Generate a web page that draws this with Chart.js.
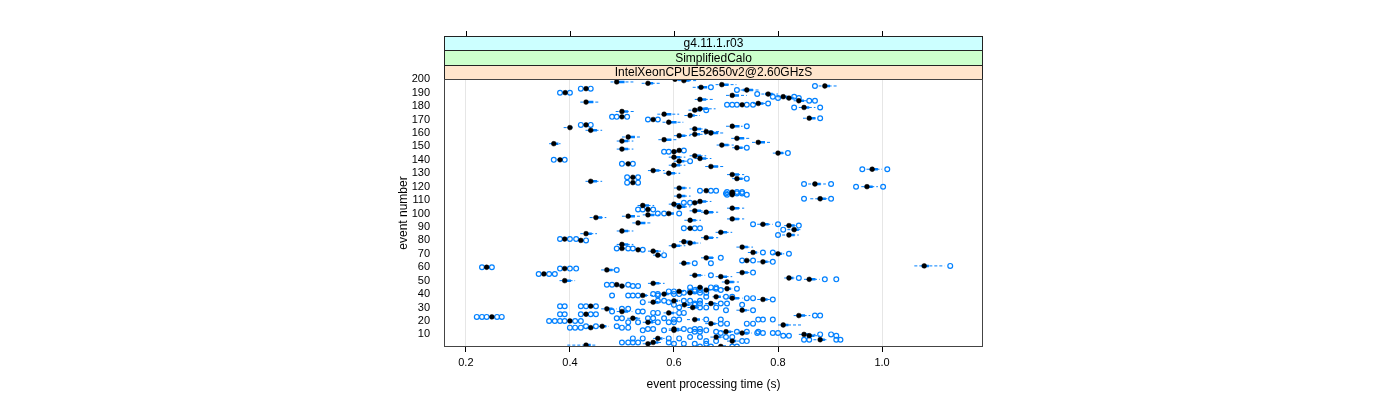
<!DOCTYPE html>
<html>
<head>
<meta charset="utf-8">
<script src="https://cdn.jsdelivr.net/npm/chart.js@4.4.1/dist/chart.umd.min.js"></script>
<style>
  html, body { margin: 0; padding: 0; background: #fff; }
  #contenedor { width: 1400px; height: 400px; }
</style>
</head>
<body>
<div id="contenedor"><canvas id="grafico"></canvas></div>
<script>
// Datos (tiempo por evento, en segundos)
const eventos = [
  200,199,198,197,196,195,194,193,192,190,
  189,188,187,186,185,184,183,182,181,179,
  178,177,176,174,173,172,171,170,168,166,
  165,164,163,162,161,160,159,158,157,156,
  155,154,153,152,151,149,148,147,146,145,
  143,142,141,140,139,137,136,135,133,132,
  130,129,127,126,124,123,122,120,119,117,
  116,115,114,113,111,109,108,107,106,105,
  104,103,102,101,100,99,98,97,96,95,
  93,92,91,89,88,87,86,85,84,82,
  81,80,79,78,77,76,75,74,73,72,
  71,70,69,67,65,64,63,61,60,59,
  58,56,55,54,53,52,51,50,49,48,
  47,46,45,44,43,42,41,40,39,38,
  37,36,35,34,33,32,31,30,29,28,
  27,26,25,24,23,22,21,20,19,18,
  17,16,15,14,13,12,11,10,9,8,
  7,6,5,4,3,2,1
];

const medianas = [
  0.602,0.619,0.490,0.550,0.692,0.890,0.652,0.431,0.740,0.391,
  0.781,0.712,0.810,0.821,0.650,0.840,0.431,0.762,0.731,0.850,
  0.650,0.640,0.500,0.581,0.631,0.500,0.860,0.560,0.590,0.431,
  0.712,0.400,0.640,0.440,0.662,0.671,0.640,0.610,0.512,0.721,
  0.581,0.500,0.762,0.369,0.692,0.721,0.500,0.610,0.600,0.800,
  0.640,0.600,0.650,0.381,0.610,0.512,0.600,0.671,0.981,0.560,
  0.590,0.712,0.521,0.721,0.440,0.521,0.871,0.971,0.610,0.662,
  0.712,0.712,0.712,0.610,0.881,0.650,0.640,0.600,0.540,0.610,
  0.712,0.550,0.640,0.662,0.590,0.550,0.512,0.450,0.712,0.631,
  0.531,0.771,0.821,0.631,0.831,0.500,0.690,0.431,0.821,0.662,
  0.390,0.421,0.619,0.631,0.500,0.600,0.731,0.500,0.531,0.560,
  0.752,0.800,0.569,0.662,0.740,0.771,0.619,1.081,0.240,0.390,
  0.471,0.731,0.350,0.640,0.690,0.821,0.860,0.390,0.702,0.560,
  0.490,0.500,0.650,0.702,0.662,0.610,0.631,0.581,0.540,0.681,
  0.712,0.771,0.600,0.560,0.671,0.620,0.440,0.636,0.471,0.731,
  0.500,0.590,0.431,0.840,0.250,0.521,0.640,0.400,0.550,0.671,
  0.810,0.462,0.440,0.600,0.600,0.700,0.731,0.850,0.860,0.681,
  0.569,0.881,0.712,0.560,0.550,0.431,0.690
];

// caja (cuartiles)
const cajaMin = [
  0.598,0.615,0.486,0.546,0.688,0.886,0.645,0.428,0.732,0.388,
  0.775,0.708,0.805,0.815,0.646,0.836,0.427,0.758,0.728,0.846,
  0.646,0.636,0.496,0.577,0.627,0.497,0.856,0.556,0.586,0.428,
  0.708,0.396,0.636,0.436,0.658,0.667,0.636,0.606,0.508,0.717,
  0.577,0.496,0.758,0.365,0.688,0.717,0.496,0.607,0.597,0.796,
  0.636,0.596,0.646,0.377,0.606,0.508,0.596,0.667,0.976,0.556,
  0.586,0.708,0.518,0.717,0.436,0.518,0.866,0.966,0.606,0.659,
  0.709,0.709,0.709,0.606,0.876,0.646,0.636,0.596,0.536,0.606,
  0.708,0.546,0.636,0.658,0.586,0.546,0.508,0.446,0.708,0.627,
  0.527,0.766,0.817,0.628,0.826,0.496,0.686,0.427,0.817,0.658,
  0.387,0.418,0.615,0.627,0.496,0.596,0.727,0.497,0.528,0.556,
  0.748,0.796,0.565,0.658,0.737,0.767,0.615,1.076,0.237,0.387,
  0.467,0.727,0.347,0.636,0.686,0.817,0.856,0.386,0.698,0.556,
  0.487,0.497,0.646,0.698,0.658,0.606,0.627,0.577,0.536,0.677,
  0.708,0.767,0.596,0.556,0.667,0.616,0.436,0.632,0.467,0.727,
  0.496,0.586,0.427,0.836,0.247,0.517,0.636,0.397,0.546,0.667,
  0.806,0.458,0.436,0.596,0.596,0.696,0.727,0.846,0.856,0.677,
  0.565,0.877,0.708,0.556,0.546,0.427,0.686
];

const cajaMax = [
  0.612,0.630,0.505,0.560,0.705,0.900,0.664,0.436,0.752,0.395,
  0.790,0.725,0.818,0.830,0.662,0.850,0.445,0.772,0.736,0.860,
  0.665,0.652,0.512,0.595,0.640,0.505,0.872,0.565,0.605,0.436,
  0.726,0.405,0.652,0.452,0.675,0.685,0.650,0.622,0.525,0.735,
  0.595,0.512,0.775,0.378,0.705,0.732,0.512,0.615,0.606,0.810,
  0.652,0.612,0.662,0.386,0.620,0.516,0.612,0.685,0.992,0.572,
  0.602,0.725,0.526,0.732,0.452,0.526,0.882,0.982,0.622,0.666,
  0.716,0.716,0.716,0.622,0.892,0.662,0.646,0.612,0.552,0.622,
  0.725,0.555,0.652,0.675,0.600,0.562,0.525,0.462,0.725,0.642,
  0.545,0.782,0.832,0.636,0.840,0.512,0.702,0.442,0.832,0.675,
  0.395,0.426,0.630,0.642,0.512,0.612,0.742,0.505,0.536,0.570,
  0.760,0.808,0.575,0.675,0.745,0.780,0.630,1.090,0.245,0.395,
  0.482,0.742,0.355,0.652,0.702,0.830,0.872,0.402,0.715,0.572,
  0.495,0.505,0.656,0.710,0.668,0.616,0.640,0.590,0.548,0.690,
  0.725,0.780,0.608,0.570,0.680,0.630,0.445,0.645,0.482,0.740,
  0.512,0.600,0.436,0.852,0.255,0.530,0.650,0.405,0.560,0.680,
  0.820,0.470,0.445,0.610,0.610,0.710,0.742,0.860,0.870,0.690,
  0.578,0.890,0.720,0.570,0.556,0.440,0.700
];

// bigotes
const bigoteMin = [
  0.590,0.608,0.478,0.538,0.680,0.878,0.636,0.426,0.728,0.386,
  0.768,0.700,0.798,0.808,0.640,0.830,0.420,0.752,0.726,0.840,
  0.638,0.628,0.488,0.568,0.620,0.494,0.848,0.554,0.578,0.426,
  0.700,0.388,0.630,0.430,0.652,0.660,0.630,0.600,0.500,0.710,
  0.570,0.490,0.750,0.360,0.682,0.712,0.490,0.604,0.595,0.790,
  0.630,0.590,0.640,0.375,0.600,0.505,0.590,0.660,0.970,0.550,
  0.580,0.702,0.515,0.712,0.430,0.515,0.858,0.960,0.600,0.656,
  0.706,0.706,0.706,0.600,0.862,0.640,0.634,0.590,0.530,0.600,
  0.702,0.544,0.630,0.652,0.584,0.540,0.500,0.438,0.702,0.620,
  0.520,0.760,0.812,0.625,0.818,0.490,0.680,0.420,0.808,0.652,
  0.385,0.415,0.610,0.622,0.490,0.590,0.720,0.494,0.526,0.550,
  0.742,0.790,0.560,0.652,0.734,0.760,0.610,1.062,0.235,0.385,
  0.460,0.720,0.345,0.630,0.680,0.812,0.850,0.380,0.692,0.550,
  0.485,0.494,0.640,0.692,0.655,0.604,0.624,0.574,0.535,0.674,
  0.702,0.760,0.590,0.550,0.660,0.610,0.434,0.626,0.460,0.720,
  0.490,0.580,0.425,0.830,0.245,0.510,0.625,0.395,0.540,0.660,
  0.800,0.455,0.432,0.590,0.590,0.690,0.720,0.840,0.850,0.670,
  0.560,0.868,0.702,0.550,0.540,0.395,0.680
];

const bigoteMax = [
  0.625,0.645,0.522,0.575,0.720,0.915,0.664,0.436,0.765,0.395,
  0.800,0.740,0.825,0.835,0.675,0.855,0.455,0.775,0.736,0.872,
  0.680,0.655,0.525,0.610,0.650,0.505,0.872,0.565,0.618,0.436,
  0.732,0.405,0.662,0.462,0.688,0.698,0.662,0.632,0.538,0.745,
  0.605,0.522,0.785,0.382,0.715,0.734,0.522,0.615,0.606,0.812,
  0.662,0.622,0.672,0.386,0.625,0.516,0.622,0.695,1.000,0.582,
  0.612,0.735,0.526,0.734,0.462,0.526,0.892,0.992,0.632,0.666,
  0.716,0.716,0.716,0.632,0.895,0.672,0.646,0.622,0.562,0.632,
  0.735,0.555,0.662,0.685,0.600,0.572,0.535,0.470,0.735,0.652,
  0.555,0.790,0.834,0.636,0.845,0.522,0.712,0.452,0.840,0.685,
  0.395,0.426,0.640,0.652,0.522,0.622,0.752,0.505,0.536,0.580,
  0.762,0.812,0.576,0.680,0.745,0.784,0.632,1.120,0.245,0.395,
  0.485,0.745,0.355,0.660,0.712,0.832,0.880,0.410,0.725,0.582,
  0.495,0.505,0.660,0.712,0.680,0.620,0.645,0.595,0.560,0.695,
  0.732,0.784,0.612,0.575,0.684,0.634,0.445,0.648,0.490,0.745,
  0.520,0.604,0.436,0.862,0.255,0.535,0.655,0.405,0.564,0.684,
  0.845,0.475,0.450,0.615,0.615,0.714,0.750,0.872,0.880,0.695,
  0.582,0.895,0.725,0.575,0.556,0.452,0.705
];

// valores atipicos de cada evento
const atipicos = [
  [],[],[],[],[],[0.871],[0.671],[0.421,0.440],[0.721],[0.381,0.400],
  [0.760],[],[0.790,0.831],[0.800,0.840],[],[0.860,0.871],[],[0.781],[0.702,0.712,0.721,0.740,0.752],[0.831,0.881],
  [],[0.662],[],[],[],[0.481,0.490,0.510],[0.881],[0.550,0.569],[],[0.421,0.440],
  [0.740],[],[],[],[],[],[],[],[],[],
  [],[],[],[],[],[0.740],[],[0.619],[0.581,0.590],[0.819],
  [],[],[],[0.369,0.390],[0.631],[0.500,0.521],[],[],[0.962,1.010],[],
  [],[],[0.510,0.531],[0.740],[],[0.510,0.531],[0.850,0.902],[0.950,1.002],[],[0.650,0.671,0.681],
  [0.702,0.721,0.731],[0.700,0.721,0.731],[0.702,0.740],[],[0.850,0.902],[],[0.619,0.631],[],[],[],
  [],[0.531,0.540,0.560],[],[],[0.569,0.581,0.610],[],[],[],[],[],
  [],[0.752,0.800],[0.840],[0.619,0.640,0.650],[0.810],[],[],[],[0.800],[],
  [0.381,0.400,0.412],[0.431],[],[],[],[],[],[0.490,0.512,0.521],[0.540],[],
  [0.771,0.790],[0.821],[0.581],[0.690],[0.731,0.752],[0.790],[0.640,0.671],[1.131],[0.231,0.250],[0.381,0.400,0.412],
  [0.490],[0.752],[0.340,0.360,0.371],[0.671],[],[0.840],[0.890,0.912],[],[],[],
  [0.471,0.481,0.512],[0.521,0.531],[0.631,0.671,0.681],[0.681,0.721],[0.640,0.650,0.690],[0.590,0.600,0.631,0.640],[0.619,0.650,0.662],[0.560,0.569,0.600,0.610],[0.481,0.512,0.521,0.531,0.569],[0.662,0.700,0.712],
  [0.740,0.752],[0.790],[0.569,0.581,0.619,0.631,0.650],[0.540,0.590],[0.640,0.650,0.690,0.702],[0.600,0.640,0.731],[0.381,0.390,0.421,0.431,0.450],[0.610,0.650,0.662,0.681],[0.500,0.512],[0.700,0.752],
  [0.481,0.531,0.540],[0.560,0.569,0.610,0.619],[0.381,0.390,0.421,0.440,0.450],[0.871,0.881],[0.221,0.231,0.240,0.260,0.269],[0.490,0.500,0.550,0.560,0.581],[0.600,0.610,0.662,0.690,0.762,0.771,0.790],[0.360,0.371,0.381,0.390,0.410,0.421],[0.512,0.531,0.569,0.590,0.600],[0.690,0.702,0.740,0.752],
  [],[0.431,0.450,0.490],[0.400,0.410,0.421,0.500,0.512],[0.550,0.560,0.619,0.640,0.650],[0.540,0.581,0.631,0.662],[0.640,0.650,0.681,0.721,0.740,0.762],[0.690,0.760,0.771,0.790,0.800],[0.881,0.902],[0.810,0.821,0.912],[0.631,0.650,0.700,0.712],
  [0.521,0.540,0.590,0.610],[0.850,0.860,0.912,0.920],[0.662,0.681,0.731,0.740],[0.500,0.512,0.521,0.531,0.590],[0.600,0.619,0.640,0.662],[],[0.650,0.671,0.712,0.721]
];

const marcasX = [0.2, 0.4, 0.6, 0.8, 1.0];
const marcasY = [10,20,30,40,50,60,70,80,90,100,110,120,130,140,150,160,170,180,190,200];
const tiras = ['g4.11.1.r03', 'SimplifiedCalo', 'IntelXeonCPUE52650v2@2.60GHzS'];

// Armar los segmentos y puntos
function segmentos(desde, hasta) {
  const res = [];
  eventos.forEach((e, i) => {
    res.push({ x: desde[i], y: e }, { x: hasta[i], y: e }, { x: null, y: null });
  });
  return res;
}

const puntosMediana = eventos.map((e, i) => ({ x: medianas[i], y: e }));
const puntosAtipicos = [];
eventos.forEach((e, i) => atipicos[i].forEach(v => puntosAtipicos.push({ x: v, y: e })));

const AZUL = '#0080ff';

// Tiras de lattice, borde del panel y marcas de arriba
const tirasPlugin = {
  id: 'tiras',
  afterDraw(chart) {
    const { ctx, chartArea: a, scales: { x } } = chart;
    const alto = 14.5;
    const ancho = a.right - a.left;
    const colores = ['#ccffff', '#ccffcc', '#ffe5cc'];
    ctx.save();
    ctx.lineWidth = 1;
    ctx.strokeStyle = '#222';
    tiras.forEach((t, i) => {
      const y0 = Math.round(a.top - (3 - i) * alto);
      const y1 = Math.round(a.top - (2 - i) * alto);
      ctx.fillStyle = colores[i];
      ctx.fillRect(a.left, y0, ancho, y1 - y0);
      ctx.strokeRect(a.left + 0.5, y0 + 0.5, ancho - 1, y1 - y0);
      ctx.fillStyle = '#000';
      ctx.font = '12px "Liberation Sans", Arial, sans-serif';
      ctx.textAlign = 'center';
      ctx.textBaseline = 'middle';
      ctx.fillText(t, (a.left + a.right) / 2, (y0 + y1) / 2 + 1);
    });
    const yArriba = Math.round(a.top - 3 * alto);
    ctx.strokeStyle = '#000';
    x.ticks.forEach(tk => {
      const px = Math.round(x.getPixelForValue(tk.value)) + 0.5;
      ctx.beginPath();
      ctx.moveTo(px, yArriba - 5);
      ctx.lineTo(px, yArriba);
      ctx.stroke();
    });
    ctx.strokeStyle = '#444';
    ctx.strokeRect(a.left + 0.5, a.top + 0.5, ancho - 1, a.bottom - a.top - 1);
    ctx.restore();
  }
};

Chart.defaults.font.family = '"Liberation Sans", Arial, sans-serif';
Chart.defaults.color = '#000';

new Chart(document.getElementById('grafico'), {
  type: 'scatter',
  data: {
    datasets: [
      {
        label: 'mediana',
        data: puntosMediana,
        pointRadius: 2.4,
        pointBackgroundColor: '#000',
        pointBorderColor: '#000',
        pointBorderWidth: 0.5
      },
      {
        label: 'atipicos',
        data: puntosAtipicos,
        pointRadius: 2.4,
        pointBackgroundColor: 'rgba(0,0,0,0)',
        pointBorderColor: AZUL,
        pointBorderWidth: 1.2
      },
      {
        type: 'line',
        label: 'caja',
        data: segmentos(cajaMin, cajaMax),
        borderColor: AZUL,
        borderWidth: 2.5,
        pointRadius: 0,
        spanGaps: false
      },
      {
        type: 'line',
        label: 'bigotes',
        data: segmentos(bigoteMin, bigoteMax),
        borderColor: AZUL,
        borderWidth: 1,
        borderDash: [3, 2],
        pointRadius: 0,
        spanGaps: false
      }
    ]
  },
  options: {
    responsive: true,
    maintainAspectRatio: false,
    animation: false,
    devicePixelRatio: 1,
    layout: { padding: { left: 392, right: 417, top: 79, bottom: 0 } },
    plugins: { legend: { display: false }, tooltip: { enabled: false } },
    scales: {
      x: {
        type: 'linear',
        min: 0.158,
        max: 1.194,
        afterBuildTicks: s => { s.ticks = marcasX.map(v => ({ value: v })); },
        afterFit: s => { s.height = 53; },
        ticks: { font: { size: 11 }, padding: 4, autoSkip: false, maxRotation: 0, callback: v => v.toFixed(1) },
        grid: { color: '#e6e6e6', tickColor: '#000', tickLength: 5, drawTicks: true },
        border: { display: false },
        title: { display: true, text: 'event processing time (s)', font: { size: 12 }, padding: { top: 4, bottom: 8 } }
      },
      y: {
        type: 'linear',
        min: 0.6,
        max: 200.2,
        afterBuildTicks: s => { s.ticks = marcasY.map(v => ({ value: v })); },
        afterFit: s => { s.width = 52; },
        ticks: { font: { size: 11 }, padding: 6, autoSkip: false, callback: v => String(v) },
        grid: { display: false },
        border: { display: false },
        title: { display: true, text: 'event number', font: { size: 12 }, padding: { top: 4, bottom: 4 } }
      }
    }
  },
  plugins: [tirasPlugin]
});
</script>
</body>
</html>
